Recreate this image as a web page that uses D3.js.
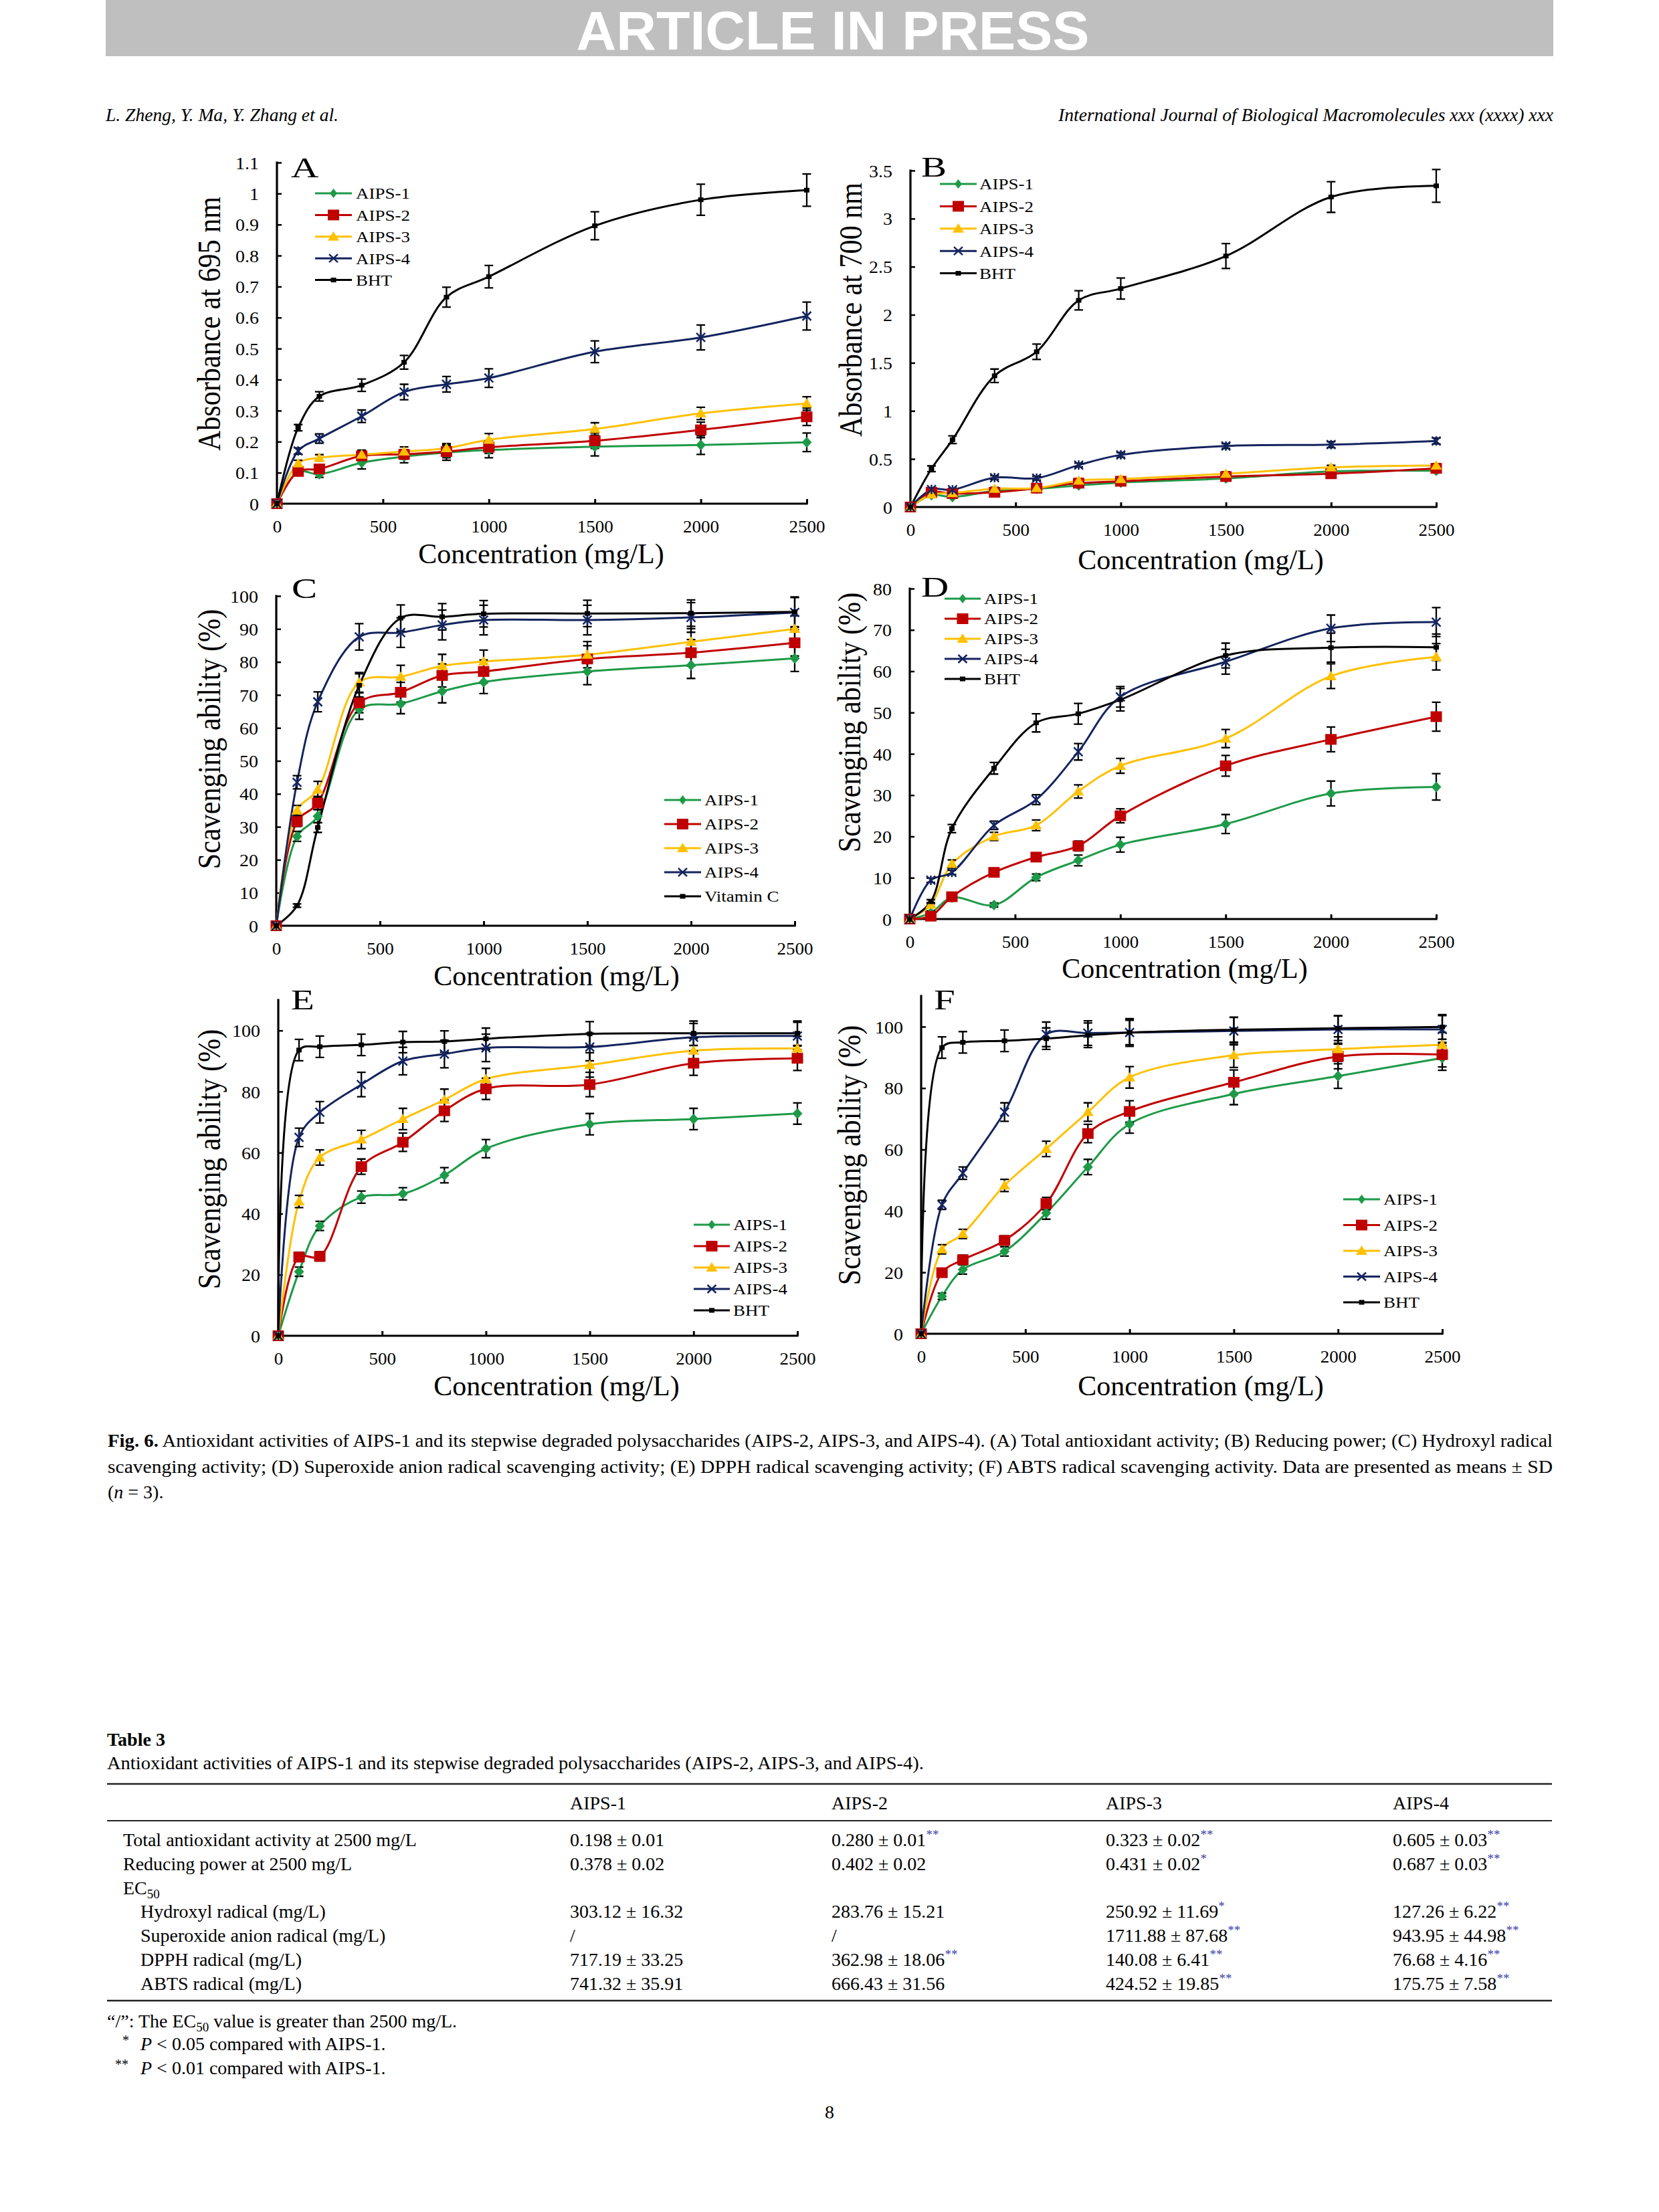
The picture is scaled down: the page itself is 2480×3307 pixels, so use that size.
<!DOCTYPE html>
<html>
<head>
<meta charset="utf-8">
<script src="https://cdn.jsdelivr.net/npm/d3@7"></script>
<style>
  body { margin: 0; background: #fff; }
  svg text { font-family: "Liberation Serif", "Times New Roman", serif; fill: #000; }
</style>
</head>
<body>
<svg id="page" width="2480" height="3307"></svg>
<script>
// concentrations (mg/L), shared by every panel
const conc = [0, 100, 200, 400, 600, 800, 1000, 1500, 2000, 2500];
const xTicks = [0, 500, 1000, 1500, 2000, 2500];
const seriesNames = ["AIPS-1", "AIPS-2", "AIPS-3", "AIPS-4", "BHT"];
const seriesNamesC = ["AIPS-1", "AIPS-2", "AIPS-3", "AIPS-4", "Vitamin C"];

// (A) total antioxidant activity
const totalMeans = [
  [0, 0.103, 0.095, 0.132, 0.152, 0.165, 0.173, 0.184, 0.189, 0.198],
  [0, 0.104, 0.112, 0.154, 0.159, 0.168, 0.182, 0.203, 0.238, 0.280],
  [0, 0.130, 0.148, 0.158, 0.168, 0.179, 0.206, 0.241, 0.291, 0.323],
  [0, 0.170, 0.210, 0.282, 0.360, 0.385, 0.405, 0.490, 0.536, 0.605],
  [0, 0.245, 0.346, 0.382, 0.456, 0.666, 0.732, 0.896, 0.980, 1.011]
];
const totalErr = [
  [0, 0.01, 0.01, 0.02, 0.02, 0.025, 0.025, 0.03, 0.03, 0.03],
  [0, 0.01, 0.01, 0.015, 0.015, 0.02, 0.02, 0.025, 0.025, 0.028],
  [0, 0.01, 0.01, 0.015, 0.015, 0.015, 0.02, 0.02, 0.02, 0.022],
  [0, 0.01, 0.015, 0.02, 0.025, 0.025, 0.03, 0.035, 0.04, 0.045],
  [0, 0.01, 0.015, 0.02, 0.022, 0.032, 0.036, 0.045, 0.05, 0.052]
];
const totalTicks = [0, 0.1, 0.2, 0.3, 0.4, 0.5, 0.6, 0.7, 0.8, 0.9, 1, 1.1];

// (B) reducing power
const reducingMeans = [
  [0, 0.124, 0.104, 0.167, 0.190, 0.225, 0.254, 0.297, 0.370, 0.378],
  [0, 0.153, 0.140, 0.153, 0.196, 0.248, 0.268, 0.317, 0.346, 0.402],
  [0, 0.130, 0.145, 0.190, 0.196, 0.274, 0.291, 0.346, 0.413, 0.431],
  [0, 0.182, 0.180, 0.306, 0.300, 0.436, 0.542, 0.635, 0.649, 0.687],
  [0, 0.398, 0.700, 1.365, 1.615, 2.150, 2.273, 2.611, 3.225, 3.341]
];
const reducingErr = [
  [0, 0.01, 0.01, 0.015, 0.015, 0.02, 0.02, 0.02, 0.02, 0.02],
  [0, 0.01, 0.01, 0.015, 0.015, 0.02, 0.02, 0.02, 0.02, 0.02],
  [0, 0.01, 0.01, 0.015, 0.015, 0.02, 0.02, 0.02, 0.02, 0.02],
  [0, 0.015, 0.015, 0.02, 0.02, 0.02, 0.025, 0.025, 0.03, 0.03],
  [0, 0.03, 0.04, 0.07, 0.08, 0.1, 0.11, 0.13, 0.16, 0.17]
];
const reducingTicks = [0, 0.5, 1, 1.5, 2, 2.5, 3, 3.5];

// (C) hydroxyl radical scavenging
const hydroxylMeans = [
  [0, 27.1, 33.2, 65.6, 67.3, 71.1, 73.9, 77.1, 79.0, 81.1],
  [0, 31.6, 37.2, 67.6, 70.8, 75.9, 77.1, 80.9, 82.8, 85.8],
  [0, 35.0, 41.3, 73.8, 75.5, 78.8, 80.1, 82.2, 86.1, 90.0],
  [0, 43.5, 67.9, 87.6, 88.9, 91.2, 92.7, 92.7, 93.5, 95.0],
  [0, 6.1, 29.8, 72.9, 93.3, 93.7, 94.6, 94.7, 94.8, 95.2]
];
const hydroxylErr = [
  [0, 1.5, 2, 3, 3, 3.5, 3.5, 4, 4, 4],
  [0, 1.5, 2, 3, 3, 3.5, 3.5, 4, 4, 4],
  [0, 1.5, 2.5, 3, 3.5, 3.5, 3.5, 4, 4, 4],
  [0, 2, 3, 4, 4.5, 4.5, 4.5, 4.5, 4.5, 4.5],
  [0, 0.5, 1.5, 3.5, 4, 4, 4, 4, 4, 4.5]
];
const hydroxylTicks = [0, 10, 20, 30, 40, 50, 60, 70, 80, 90, 100];

// (D) superoxide anion radical scavenging
const superoxideMeans = [
  [0, 1.5, 5.2, 3.4, 10.1, 14.2, 18.0, 23.0, 30.4, 32.0],
  [0, 0.7, 5.4, 11.3, 15.0, 17.7, 25.0, 37.1, 43.5, 49.0],
  [0, 3.5, 13.3, 20.0, 22.7, 30.9, 37.1, 43.7, 58.8, 63.5],
  [0, 9.4, 11.3, 22.7, 28.9, 40.5, 53.8, 62.3, 70.4, 71.9],
  [0, 4.2, 21.9, 36.5, 47.5, 49.7, 53.1, 63.8, 65.7, 65.8]
];
const superoxideErr = [
  [0, 0.5, 0.5, 0.5, 0.8, 1.3, 1.8, 2.3, 3, 3.2],
  [0, 0.5, 0.7, 1, 1, 1.2, 1.7, 2.5, 3, 3.5],
  [0, 0.5, 1, 1, 1.3, 1.6, 1.8, 2.2, 3, 3.2],
  [0, 0.5, 0.5, 1, 1.2, 2, 2.5, 3, 3.2, 3.5],
  [0, 0.5, 1, 1.4, 2.2, 2.5, 2.7, 3, 3.5, 3.2]
];
const superoxideTicks = [0, 10, 20, 30, 40, 50, 60, 70, 80];

// (E) DPPH radical scavenging
const dpphMeans = [
  [0, 21.0, 36.0, 45.4, 46.5, 52.6, 61.3, 69.3, 71.0, 72.8],
  [0, 25.8, 26.0, 55.4, 63.4, 73.7, 80.9, 82.3, 89.3, 90.9],
  [0, 44.0, 58.4, 64.3, 71.0, 77.3, 84.1, 88.7, 93.4, 94.1],
  [0, 65.0, 73.2, 82.3, 90.0, 92.3, 94.3, 94.6, 97.8, 98.2],
  [0, 93.6, 94.7, 95.3, 96.2, 96.4, 97.3, 98.9, 99.1, 99.1]
];
const dpphErr = [
  [0, 1.5, 1.5, 2, 2, 2.5, 3, 3.5, 3.5, 3.5],
  [0, 1.5, 1.5, 2.5, 3, 3.5, 3.5, 4, 4, 4],
  [0, 2, 2.5, 3, 3.5, 3.5, 3.5, 4, 4, 4],
  [0, 3, 3.5, 4, 4.5, 4.5, 4.5, 4.5, 4.5, 4.5],
  [0, 3.5, 3.5, 3.5, 3.5, 3.5, 3.5, 4, 4, 4]
];
const pctTicks = [0, 20, 40, 60, 80, 100];

// (F) ABTS radical scavenging
const abtsMeans = [
  [0, 12.2, 20.9, 26.8, 39.3, 54.3, 68.3, 78.1, 83.9, 89.8],
  [0, 19.9, 24.1, 30.4, 42.4, 65.2, 72.4, 81.9, 90.3, 90.9],
  [0, 27.5, 32.5, 48.3, 60.2, 72.2, 83.5, 90.7, 92.7, 94.1],
  [0, 42.0, 52.3, 72.2, 97.5, 97.9, 98.1, 98.6, 99.1, 99.1],
  [0, 93.2, 94.9, 95.4, 96.1, 97.2, 98.1, 99.0, 99.5, 99.9]
];
const abtsErr = [
  [0, 1, 1.5, 1.5, 2, 2.5, 3, 3.5, 4, 4],
  [0, 1, 1.5, 1.5, 2, 3, 3.5, 4, 4, 4],
  [0, 1.5, 1.5, 2, 2.5, 3, 3.5, 4, 4, 4],
  [0, 1.5, 2, 3, 4, 4, 4.5, 4.5, 4.5, 4.5],
  [0, 3.5, 3.5, 3.5, 3.5, 4, 4, 4, 4, 4]
];

// Table 3
const tableCols = ["AIPS-1", "AIPS-2", "AIPS-3", "AIPS-4"];
const tableRowLabels = ["Total antioxidant activity at 2500 mg/L", "Reducing power at 2500 mg/L", "EC50",
  "Hydroxyl radical (mg/L)", "Superoxide anion radical (mg/L)", "DPPH radical (mg/L)", "ABTS radical (mg/L)"];
const tableCells = [
  [["0.198 ± 0.01", ""], ["0.280 ± 0.01", "**"], ["0.323 ± 0.02", "**"], ["0.605 ± 0.03", "**"]],
  [["0.378 ± 0.02", ""], ["0.402 ± 0.02", ""], ["0.431 ± 0.02", "*"], ["0.687 ± 0.03", "**"]],
  [["", ""], ["", ""], ["", ""], ["", ""]],
  [["303.12 ± 16.32", ""], ["283.76 ± 15.21", ""], ["250.92 ± 11.69", "*"], ["127.26 ± 6.22", "**"]],
  [["/", ""], ["/", ""], ["1711.88 ± 87.68", "**"], ["943.95 ± 44.98", "**"]],
  [["717.19 ± 33.25", ""], ["362.98 ± 18.06", "**"], ["140.08 ± 6.41", "**"], ["76.68 ± 4.16", "**"]],
  [["741.32 ± 35.91", ""], ["666.43 ± 31.56", ""], ["424.52 ± 19.85", "**"], ["175.75 ± 7.58", "**"]]
];

const colors = ["#1d9a48", "#c00000", "#ffc000", "#14245e", "#000000"];

const svg = d3.select("#page");
svg.append("rect").attr("width", 2480).attr("height", 3307).attr("fill", "#fff");

// header band
svg.append("rect").attr("x", 158).attr("y", 0).attr("width", 2164).attr("height", 84).attr("fill", "#bfbfbf");
svg.append("text").attr("x", 1245).attr("y", 74).attr("text-anchor", "middle")
  .style("font-family", "'Liberation Sans', Arial, sans-serif").style("font-weight", "bold")
  .style("font-size", "82px").style("fill", "#fff")
  .attr("textLength", 767).attr("lengthAdjust", "spacingAndGlyphs").text("ARTICLE IN PRESS");
svg.append("text").attr("x", 158).attr("y", 181).style("font-size", "27px").style("font-style", "italic")
  .attr("textLength", 348).attr("lengthAdjust", "spacingAndGlyphs").text("L. Zheng, Y. Ma, Y. Zhang et al.");
svg.append("text").attr("x", 1582).attr("y", 181).style("font-size", "27px").style("font-style", "italic")
  .attr("textLength", 740).attr("lengthAdjust", "spacingAndGlyphs")
  .text("International Journal of Biological Macromolecules xxx (xxxx) xxx");

// panel layout
const panels = [
  {letter: "A", means: totalMeans, err: totalErr, ticks: totalTicks, yMax: 1.1, names: seriesNames,
   x0: 414, x1: 1206, y0: 753, yTop: 243, ytitle: "Absorbance at 695 nm", ytx: 312, yty: 484,
   xtx: 809, xty: 827, lx: 435, ly: 265, leg: {x0: 471, x1: 526, tx: 532, y: 289, dy: 32.4}},
  {letter: "B", means: reducingMeans, err: reducingErr, ticks: reducingTicks, yMax: 3.5, names: seriesNames,
   x0: 1361, x1: 2147, y0: 758, yTop: 255, ytitle: "Absorbance at 700 nm", ytx: 1271, yty: 463,
   xtx: 1795, xty: 836, lx: 1377, ly: 264, leg: {x0: 1405, x1: 1460, tx: 1464, y: 275, dy: 33.4}},
  {letter: "C", means: hydroxylMeans, err: hydroxylErr, ticks: hydroxylTicks, yMax: 100, names: seriesNamesC,
   x0: 413, x1: 1188, y0: 1384, yTop: 891, ytitle: "Scavenging ability (%)", ytx: 312, yty: 1105,
   xtx: 832, xty: 1458, lx: 436, ly: 894, leg: {x0: 993, x1: 1048, tx: 1053, y: 1196, dy: 36}},
  {letter: "D", means: superoxideMeans, err: superoxideErr, ticks: superoxideTicks, yMax: 80, names: seriesNames,
   x0: 1360, x1: 2147, y0: 1374, yTop: 880, ytitle: "Scavenging ability (%)", ytx: 1269, yty: 1080,
   xtx: 1771, xty: 1447, lx: 1377, ly: 892, leg: {x0: 1412, x1: 1466, tx: 1471, y: 895, dy: 30}},
  {letter: "E", means: dpphMeans, err: dpphErr, ticks: pctTicks, yMax: 110, names: seriesNames,
   x0: 416, x1: 1192, y0: 1997, yTop: 1495, ytitle: "Scavenging ability (%)", ytx: 312, yty: 1733,
   xtx: 832, xty: 2071, lx: 435, ly: 1509, leg: {x0: 1037, x1: 1091, tx: 1096, y: 1831, dy: 32}},
  {letter: "F", means: abtsMeans, err: abtsErr, ticks: pctTicks, yMax: 110, names: seriesNames,
   x0: 1377, x1: 2156, y0: 1994, yTop: 1489, ytitle: "Scavenging ability (%)", ytx: 1269, yty: 1727,
   xtx: 1795, xty: 2071, lx: 1396, ly: 1509, leg: {x0: 2008, x1: 2063, tx: 2068, y: 1793, dy: 38.5}}
];

function marker(g, k, cx, cy, inLegend) {
  const m = g.append("g").attr("transform", `translate(${cx},${cy})`);
  if (k === 0) {
    const d = inLegend ? "M0,-7L5.5,0L0,7L-5.5,0Z" : "M0,-8L7.5,0L0,8L-7.5,0Z";
    m.append("path").attr("d", d).attr("fill", colors[0]);
  } else if (k === 1) {
    m.append("rect").attr("x", -8.5).attr("y", -8).attr("width", 17).attr("height", 16).attr("fill", colors[1]);
  } else if (k === 2) {
    m.append("path").attr("d", "M0,-8L8.5,6L-8.5,6Z").attr("fill", colors[2]);
  } else if (k === 3) {
    const d = inLegend ? "M-6.5,-6L6.5,6M-6.5,6L6.5,-6" : "M-6.5,-6.5L6.5,6.5M-6.5,6.5L6.5,-6.5M0,-7L0,7";
    m.append("path").attr("d", d).attr("stroke", colors[3]).attr("stroke-width", 2.5).attr("fill", "none");
  } else {
    m.append("rect").attr("x", -4).attr("y", -3.5).attr("width", 8).attr("height", 7).attr("fill", "#000");
  }
}

function drawPanel(p) {
  const g = svg.append("g");
  const x = d3.scaleLinear().domain([0, 2500]).range([p.x0, p.x1]);
  const y = d3.scaleLinear().domain([0, p.yMax]).range([p.y0, p.yTop]);

  // x axis with inside ticks
  const xa = g.append("g").attr("transform", `translate(0,${p.y0})`)
    .call(d3.axisBottom(x).tickValues(xTicks).tickSize(-7).tickFormat(d3.format("d")));
  xa.attr("font-family", null).attr("font-size", null);
  xa.select(".domain").remove();
  xa.selectAll(".tick line").attr("stroke", "#000").attr("stroke-width", 3);
  xa.selectAll(".tick text").attr("y", 0).attr("dy", "0.35em")
    .attr("transform", "translate(0,34) scale(1,0.93)").style("font-size", "27px");

  // y axis with inside ticks
  const ya = g.append("g").attr("transform", `translate(${p.x0},0)`)
    .call(d3.axisLeft(y).tickValues(p.ticks).tickSize(-7).tickFormat(d => String(d)));
  ya.attr("font-family", null).attr("font-size", null);
  ya.select(".domain").remove();
  ya.selectAll(".tick line").attr("stroke", "#000").attr("stroke-width", 2.5);
  ya.selectAll(".tick text").attr("x", 0).attr("dy", "0.35em")
    .attr("transform", "translate(-27,0) scale(1,0.93)").style("font-size", "28px");

  g.append("line").attr("x1", x(0)).attr("x2", x(2500)).attr("y1", y(0)).attr("y2", y(0))
    .attr("stroke", "#000").attr("stroke-width", 3.2).attr("stroke-linecap", "square");
  g.append("line").attr("x1", x(0)).attr("x2", x(0)).attr("y1", y(0)).attr("y2", y(p.yMax))
    .attr("stroke", "#000").attr("stroke-width", 3.2).attr("stroke-linecap", "square");

  // titles and panel letter
  g.append("text").attr("text-anchor", "middle").attr("dy", "0.35em")
    .attr("transform", `translate(${p.xtx},${p.xty})`)
    .style("font-size", "42px").text("Concentration (mg/L)");
  g.append("text").attr("text-anchor", "middle").attr("dy", "0.35em")
    .attr("transform", `translate(${p.ytx},${p.yty}) rotate(-90) scale(0.86,1)`)
    .style("font-size", "49px").text(p.ytitle);
  g.append("text").attr("transform", `translate(${p.lx},${p.ly}) scale(1,0.75)`)
    .style("font-size", "57px").text(p.letter);

  // series
  const line = d3.line().x((d, i) => x(conc[i])).y(d => y(d)).curve(d3.curveCatmullRom.alpha(0.5));
  p.means.forEach((m, k) => {
    g.append("path").attr("d", line(m)).attr("fill", "none")
      .attr("stroke", colors[k]).attr("stroke-width", 3);
  });
  p.means.forEach((m, k) => {
    m.forEach((v, i) => {
      const e = p.err[k][i];
      if (!e) return;
      const cx = x(conc[i]);
      g.append("path")
        .attr("d", `M${cx},${y(v - e)}V${y(v + e)}M${cx - 6.5},${y(v - e)}H${cx + 6.5}M${cx - 6.5},${y(v + e)}H${cx + 6.5}`)
        .attr("stroke", "#000").attr("stroke-width", 2.3).attr("fill", "none");
    });
  });
  p.means.forEach((m, k) => {
    m.forEach((v, i) => marker(g, k, x(conc[i]), y(v), false));
  });

  // legend
  p.names.forEach((name, k) => {
    const ly = p.leg.y + k * p.leg.dy;
    g.append("line").attr("x1", p.leg.x0).attr("x2", p.leg.x1).attr("y1", ly).attr("y2", ly)
      .attr("stroke", colors[k]).attr("stroke-width", 3);
    marker(g, k, (p.leg.x0 + p.leg.x1) / 2, ly, true);
    g.append("text").attr("dy", "0.35em")
      .attr("transform", `translate(${p.leg.tx},${ly}) scale(1,0.89)`)
      .style("font-size", "27px").text(name);
  });
}

panels.forEach(drawPanel);

// figure caption
const cap1 = svg.append("text").attr("x", 161).attr("y", 2163).style("font-size", "28px")
  .attr("textLength", 2160).attr("lengthAdjust", "spacingAndGlyphs");
cap1.append("tspan").style("font-weight", "bold").text("Fig. 6.");
cap1.append("tspan").text(" Antioxidant activities of AIPS-1 and its stepwise degraded polysaccharides (AIPS-2, AIPS-3, and AIPS-4). (A) Total antioxidant activity; (B) Reducing power; (C) Hydroxyl radical");
svg.append("text").attr("x", 161).attr("y", 2202).style("font-size", "28px")
  .attr("textLength", 2160).attr("lengthAdjust", "spacingAndGlyphs")
  .text("scavenging activity; (D) Superoxide anion radical scavenging activity; (E) DPPH radical scavenging activity; (F) ABTS radical scavenging activity. Data are presented as means ± SD");
const cap3 = svg.append("text").attr("x", 161).attr("y", 2240).style("font-size", "28px");
cap3.append("tspan").text("(");
cap3.append("tspan").style("font-style", "italic").text("n");
cap3.append("tspan").text(" = 3).");

// table 3
svg.append("text").attr("x", 160).attr("y", 2610).style("font-size", "28px").style("font-weight", "bold").text("Table 3");
svg.append("text").attr("x", 160).attr("y", 2645).style("font-size", "28px")
  .attr("textLength", 1221).attr("lengthAdjust", "spacingAndGlyphs")
  .text("Antioxidant activities of AIPS-1 and its stepwise degraded polysaccharides (AIPS-2, AIPS-3, and AIPS-4).");
[[2667, 2.5], [2722, 1.8], [2991, 2.5]].forEach(([ry, w]) => {
  svg.append("line").attr("x1", 160).attr("x2", 2320).attr("y1", ry).attr("y2", ry)
    .attr("stroke", "#222").attr("stroke-width", w);
});
const colX = [852, 1243, 1653, 2082];
tableCols.forEach((c, j) => {
  svg.append("text").attr("x", colX[j]).attr("y", 2705).style("font-size", "28px").text(c);
});
tableRowLabels.forEach((lab, r) => {
  const ry = 2760 + r * 35.8;
  const t = svg.append("text").attr("x", r > 2 ? 210 : 184).attr("y", ry).style("font-size", "28px");
  if (lab === "EC50") {
    t.append("tspan").text("EC");
    t.append("tspan").attr("dy", 6).style("font-size", "19px").text("50");
  } else {
    t.text(lab);
  }
  tableCells[r].forEach(([val, sig], j) => {
    if (!val) return;
    const c = svg.append("text").attr("x", colX[j]).attr("y", ry).style("font-size", "28px");
    c.append("tspan").text(val);
    if (sig) c.append("tspan").attr("dy", -11).style("font-size", "19px").style("fill", "#3a3aa8").text(sig);
  });
});

// table footnotes
const fn1 = svg.append("text").attr("x", 160).attr("y", 3031).style("font-size", "28px");
fn1.append("tspan").text("“/”: The EC");
fn1.append("tspan").attr("dy", 6).style("font-size", "19px").text("50");
fn1.append("tspan").attr("dy", -6).text(" value is greater than 2500 mg/L.");
[["*", 183, 3065, "0.05"], ["**", 172, 3101, "0.01"]].forEach(([s, sx, fy, pv]) => {
  svg.append("text").attr("x", sx).attr("y", fy - 8).style("font-size", "20px").text(s);
  const f = svg.append("text").attr("x", 210).attr("y", fy).style("font-size", "28px");
  f.append("tspan").style("font-style", "italic").text("P");
  f.append("tspan").text(` < ${pv} compared with AIPS-1.`);
});

// page number
svg.append("text").attr("x", 1240).attr("y", 3167).attr("text-anchor", "middle").style("font-size", "28px").text("8");
</script>
</body>
</html>
